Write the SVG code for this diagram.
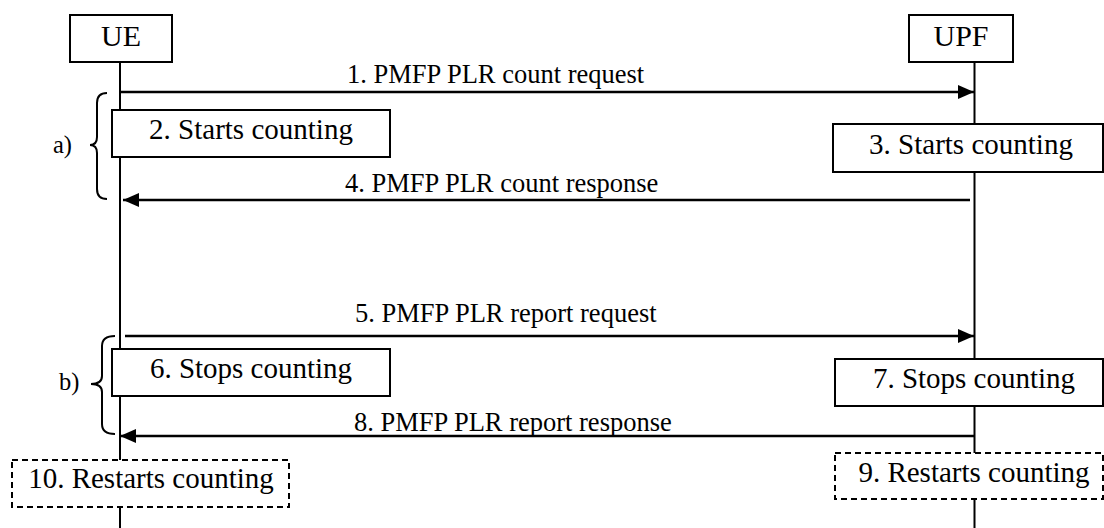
<svg xmlns="http://www.w3.org/2000/svg" width="1104" height="528" viewBox="0 0 1104 528" font-family="'Liberation Serif', 'DejaVu Serif', serif">
<style>
.name{font-size:30px;text-anchor:middle}
.step{font-size:29px;text-anchor:middle}
.lbl{font-size:26.5px}
.brl{font-size:24.5px}
.box{fill:#fff;stroke:#000;stroke-width:2}
.dash{fill:#fff;stroke:#000;stroke-width:2;stroke-dasharray:6 4}
.life{stroke:#000;stroke-width:2;fill:none}
.msg{stroke:#000;stroke-width:2.6;fill:none;marker-end:url(#ah)}
.brace{stroke:#000;stroke-width:2;fill:none}
</style>
<defs>
<marker id="ah" markerUnits="userSpaceOnUse" markerWidth="16" markerHeight="14" refX="16" refY="7" orient="auto">
<path d="M0,0 L16,7 L0,14 z" fill="#000"/>
</marker>
</defs>
<rect width="1104" height="528" fill="#fff"/>
<g id="lifelines">
<line class="life" x1="120" y1="62" x2="120" y2="528"/>
<line class="life" x1="974.5" y1="62" x2="974.5" y2="528"/>
</g>
<g id="UE"><rect class="box" x="70" y="15" width="102" height="47"/><text class="name" x="121" y="46" font-family="Liberation Serif, serif">UE</text></g>
<g id="UPF"><rect class="box" x="909" y="15" width="104" height="47"/><text class="name" x="961" y="46" font-family="Liberation Serif, serif">UPF</text></g>
<g id="connectors" font-family="Liberation Serif, serif">
<line class="msg" x1="121" y1="92" x2="974" y2="92"/>
<text class="lbl" x="347" y="83">1. PMFP PLR count request</text>
<line class="msg" x1="970" y1="200" x2="123" y2="200"/>
<text class="lbl" x="345" y="192">4. PMFP PLR count response</text>
<line class="msg" x1="125" y1="336" x2="974" y2="336"/>
<text class="lbl" x="355" y="322">5. PMFP PLR report request</text>
<line class="msg" x1="974" y1="436" x2="120" y2="436"/>
<text class="lbl" x="354" y="431">8. PMFP PLR report response</text>
</g>
<g id="step2" font-family="Liberation Serif, serif"><rect class="box" x="112" y="110" width="278" height="47"/><text class="step" x="251" y="139">2. Starts counting</text></g>
<g id="step3" font-family="Liberation Serif, serif"><rect class="box" x="833" y="124" width="270" height="48"/><text class="step" x="971" y="154">3. Starts counting</text></g>
<g id="step6" font-family="Liberation Serif, serif"><rect class="box" x="112" y="349" width="278" height="47"/><text class="step" x="251" y="378">6. Stops counting</text></g>
<g id="step7" font-family="Liberation Serif, serif"><rect class="box" x="835" y="359" width="268" height="47"/><text class="step" x="974" y="388">7. Stops counting</text></g>
<g id="step9" font-family="Liberation Serif, serif"><rect class="dash" x="835" y="453" width="268" height="46"/><text class="step" x="974" y="482">9. Restarts counting</text></g>
<g id="step10" font-family="Liberation Serif, serif"><rect class="dash" x="12" y="460" width="277" height="47"/><text class="step" x="151" y="488">10. Restarts counting</text></g>
<g id="brace-a" font-family="Liberation Serif, serif">
<path class="brace" d="M107,93 Q97,93 97,103 L97,137 Q97,145 90,145 Q97,145 97,153 L97,189 Q97,199 107,199"/>
<text class="brl" x="53" y="153">a)</text>
</g>
<g id="brace-b" font-family="Liberation Serif, serif">
<path class="brace" d="M115,336 Q102,336 102,346 L102,376 Q102,384 91,384 Q102,384 102,392 L102,424 Q102,434 115,434"/>
<text class="brl" x="59" y="390">b)</text>
</g>
</svg>
